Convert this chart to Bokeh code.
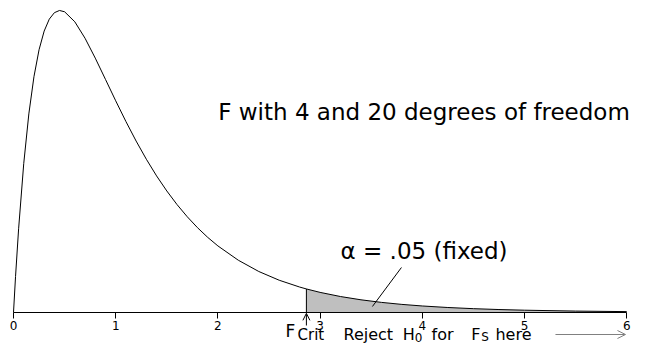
from bokeh.plotting import figure
from bokeh.models import Label, Arrow, OpenHead, Range1d, FixedTicker
from bokeh.embed import file_html
from bokeh.resources import INLINE
import numpy as np

# F(4, 20) density
X_VALUES = [0, 0.02, 0.05, 0.1, 0.15, 0.2, 0.25, 0.3, 0.35, 0.4, 0.45, 0.5, 0.6, 0.7,
            0.8, 0.9, 1.0, 1.1, 1.2, 1.3, 1.4, 1.5, 1.6, 1.7, 1.8, 1.9, 2.0, 2.2, 2.4,
            2.6, 2.8, 2.866, 3.0, 3.2, 3.4, 3.6, 3.8, 4.0, 4.25, 4.5, 4.75, 5.0, 5.5, 6.0]
DENSITY = [0, 0.0839, 0.1952, 0.3469, 0.4629, 0.5496, 0.6125, 0.6560, 0.6838, 0.6989,
           0.7040, 0.7010, 0.6776, 0.6393, 0.5930, 0.5434, 0.4935, 0.4452, 0.3996,
           0.3572, 0.3184, 0.2833, 0.2516, 0.2232, 0.1978, 0.1752, 0.1552, 0.1218,
           0.0956, 0.0752, 0.0593, 0.0549, 0.0469, 0.0372, 0.0296, 0.0236, 0.0189,
           0.0152, 0.01164, 0.00895, 0.00692, 0.00537, 0.00329, 0.00205]
F_CRIT = 2.866
TICKS = [0, 1, 2, 3, 4, 5, 6]
TICK_LABELS = ["0", "1", "2", "3", "4", "5", "6"]

xs = np.array(X_VALUES)
ys = np.array(DENSITY)
mask = xs >= F_CRIT
y_crit = float(ys[np.argmin(np.abs(xs - F_CRIT))])

FONT = "DejaVu Sans"

p = figure(width=646, height=344,
           x_range=Range1d(-13 / 102.2, 633 / 102.2),
           y_range=Range1d(-32 / 429, 312 / 429),
           output_backend="svg", toolbar_location=None,
           y_axis_location=None,
           min_border_left=0, min_border_right=0, min_border_top=0,
           min_border_bottom=0)
p.outline_line_color = None
p.grid.visible = False
p.background_fill_color = "white"
p.border_fill_color = "white"

ax = p.xaxis[0]
ax.fixed_location = 0
ax.ticker = FixedTicker(ticks=TICKS)
ax.major_label_overrides = {t: l for t, l in zip(TICKS, TICK_LABELS)}
ax.bounds = (TICKS[0], TICKS[-1])
ax.major_tick_out = 6
ax.major_tick_in = 0
ax.minor_tick_out = 0
ax.minor_tick_in = 0
ax.axis_line_color = "black"
ax.major_tick_line_color = "black"
ax.major_label_text_color = "black"
ax.major_label_text_font = FONT
ax.major_label_text_font_size = "12px"
ax.major_label_standoff = 2

# shaded rejection region
p.varea(x=xs[mask], y1=0, y2=ys[mask], fill_color="#bfbfbf")
# density curve
p.line(xs, ys, line_color="black", line_width=1)
# critical value line
p.segment(x0=[F_CRIT], y0=[0], x1=[F_CRIT], y1=[y_crit], line_color="black", line_width=1)
# pointer from alpha label
p.segment(x0=[3.796], y0=[0.1049], x1=[3.512], y1=[0.0140], line_color="black", line_width=1)

p.add_layout(Arrow(end=OpenHead(size=7, line_color="black", line_width=1),
                   x_start=F_CRIT, y_start=-0.0303, x_end=F_CRIT, y_end=-0.002,
                   line_color="black", line_width=1))
p.add_layout(Arrow(end=OpenHead(size=8, line_color="#808080", line_width=1),
                   x_start=5.303, y_start=-0.0513, x_end=5.988, y_end=-0.0513,
                   line_color="#808080", line_width=1))


def lab(text, x, y, size, align="left"):
    p.add_layout(Label(text=text, x=x, y=y, text_font=FONT, text_font_size=size,
                       text_color="black", text_align=align,
                       text_baseline="alphabetic"))


lab("F with 4 and 20 degrees of freedom", 4.017, 0.4674, "23px", "center")
lab("\u03b1 = .05 (fixed)", 4.017, 0.1422, "23px", "center")
lab("F", 2.661, -0.0429, "17px")
lab("Crit", 2.779, -0.0524, "15px")
lab("Reject", 3.229, -0.0515, "16px")
lab("H", 3.809, -0.0515, "16px")
lab("0", 3.927, -0.0573, "12px")
lab("for", 4.090, -0.0515, "16px")
lab("F", 4.478, -0.0515, "16px")
lab("S", 4.576, -0.0573, "12px")
lab("here", 4.716, -0.0515, "16px")

open("out.html", "w").write(file_html(p, INLINE))
